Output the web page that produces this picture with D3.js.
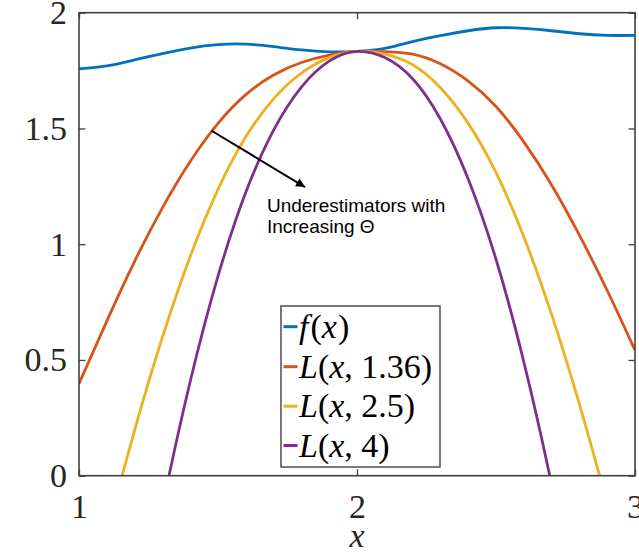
<!DOCTYPE html>
<html>
<head>
<meta charset="utf-8">
<script src="https://cdn.jsdelivr.net/npm/d3@7"></script>
<style>
  html, body { margin: 0; padding: 0; background: #fff; }
  svg { display: block; }
</style>
</head>
<body>
<svg id="chart" width="639" height="554"></svg>
<script>
// Sample points along x
const xs = [1.0, 1.1, 1.2, 1.3, 1.4, 1.5, 1.6, 1.7, 1.8, 1.9, 2.0,
            2.1, 2.2, 2.3, 2.4, 2.5, 2.6, 2.7, 2.8, 2.9, 3.0];

// Objective f(x)
const fVals = [1.757, 1.770, 1.796, 1.823, 1.847, 1.862, 1.864, 1.853, 1.839, 1.831, 1.833,
               1.846, 1.875, 1.901, 1.922, 1.935, 1.932, 1.922, 1.909, 1.902, 1.902];

// Underestimator L(x, 1.36)
const l136Vals = [0.397, 0.668, 0.926, 1.157, 1.357, 1.522, 1.646, 1.731, 1.785, 1.817, 1.833,
                  1.832, 1.821, 1.779, 1.704, 1.595, 1.442, 1.256, 1.039, 0.800, 0.542];

// Underestimator L(x, 2.5)
const l25Vals = [-0.743, -0.255, 0.196, 0.598, 0.947, 1.237, 1.464, 1.628, 1.739, 1.806, 1.833,
                 1.821, 1.775, 1.676, 1.522, 1.310, 1.032, 0.697, 0.309, -0.123, -0.598];

// Underestimator L(x, 4)
const l4Vals = [-2.243, -1.470, -0.764, -0.137, 0.407, 0.862, 1.224, 1.493, 1.679, 1.791, 1.833,
                1.806, 1.715, 1.541, 1.282, 0.935, 0.492, -0.038, -0.651, -1.338, -2.098];

const xTicks = [1, 2, 3];
const yTicks = [0, 0.5, 1, 1.5, 2];
const yTickLabels = ["0", "0.5", "1", "1.5", "2"];

const seriesNames = ["f", "L136", "L25", "L4"];
const seriesColors = ["#0072BD", "#D95319", "#EDB120", "#7E2F8E"];
const seriesValues = [fVals, l136Vals, l25Vals, l4Vals];
const legendArgs = [null, "1.36", "2.5", "4"];

// Annotation arrow (data units) and its text
const arrowFrom = [1.477, 1.490];
const arrowTo = [1.813, 1.247];
const noteLines = ["Underestimators with", "Increasing \u0398"];
const noteAnchor = [1.676, 1.140];

const svg = d3.select("#chart");
const L = 79, R = 635, T = 12.7, B = 475.7;

const x = d3.scaleLinear().domain([1, 3]).range([L, R]);
const y = d3.scaleLinear().domain([0, 2]).range([B, T]);

const axisColor = "#404040";
const serif = "'Liberation Serif', 'Times New Roman', serif";

svg.append("defs").append("clipPath").attr("id", "plotClip")
  .append("rect").attr("x", L).attr("y", T).attr("width", R - L).attr("height", B - T);

svg.select("defs").append("marker")
  .attr("id", "arrowHead")
  .attr("viewBox", "0 0 10 10")
  .attr("refX", 10).attr("refY", 5)
  .attr("markerWidth", 5.5).attr("markerHeight", 4.5)
  .attr("markerUnits", "strokeWidth")
  .attr("orient", "auto")
  .append("path").attr("d", "M0,0 L10,5 L0,10 Z").attr("fill", "#000");

// Curves
const line = d3.line()
  .x((d, i) => x(xs[i]))
  .y(d => y(d))
  .curve(d3.curveNatural);

const plot = svg.append("g").attr("clip-path", "url(#plotClip)");
seriesValues.forEach((vals, k) => {
  plot.append("path")
    .attr("class", "series " + seriesNames[k])
    .attr("d", line(vals))
    .attr("fill", "none")
    .attr("stroke", seriesColors[k])
    .attr("stroke-width", 2.8)
    .attr("stroke-linejoin", "round");
});

// Axes with inward ticks on all four sides
function styleAxis(g) {
  g.select(".domain").remove();
  g.selectAll(".tick line").attr("stroke", axisColor).attr("stroke-width", 1.3);
  g.selectAll(".tick text")
    .attr("fill", "#262626")
    .style("font-family", serif)
    .style("font-size", "34px");
}

svg.append("g").attr("transform", `translate(0,${B})`)
  .call(d3.axisBottom(x).tickValues(xTicks).tickFormat(d3.format("d")).tickSize(-6.5).tickPadding(18))
  .call(styleAxis);

svg.append("g").attr("transform", `translate(0,${T})`)
  .call(d3.axisTop(x).tickValues(xTicks).tickFormat("").tickSize(-6.5))
  .call(styleAxis);

svg.append("g").attr("transform", `translate(${L},0)`)
  .call(d3.axisLeft(y).tickValues(yTicks).tickFormat((d, i) => yTickLabels[i]).tickSize(-6.5).tickPadding(12))
  .call(styleAxis);

svg.append("g").attr("transform", `translate(${R},0)`)
  .call(d3.axisRight(y).tickValues(yTicks).tickFormat("").tickSize(-6.5))
  .call(styleAxis);

svg.append("rect")
  .attr("x", L).attr("y", T).attr("width", R - L).attr("height", B - T)
  .attr("fill", "none").attr("stroke", axisColor).attr("stroke-width", 1.6);

// x label
svg.append("text")
  .attr("x", x(2)).attr("y", 547)
  .attr("text-anchor", "middle")
  .style("font-family", serif).style("font-style", "italic").style("font-size", "34px")
  .attr("fill", "#262626")
  .text("x");

// Annotation
svg.append("line")
  .attr("x1", x(arrowFrom[0])).attr("y1", y(arrowFrom[1]))
  .attr("x2", x(arrowTo[0])).attr("y2", y(arrowTo[1]))
  .attr("stroke", "#000").attr("stroke-width", 2)
  .attr("marker-end", "url(#arrowHead)");

const note = svg.append("text")
  .attr("x", x(noteAnchor[0])).attr("y", y(noteAnchor[1]))
  .style("font-family", "'Liberation Sans', Arial, sans-serif")
  .style("font-size", "19px")
  .attr("fill", "#000");
noteLines.forEach((t, i) => {
  note.append("tspan").attr("x", x(noteAnchor[0])).attr("dy", i === 0 ? 0 : 21.7).text(t);
});

// Legend
const lg = svg.append("g");
lg.append("rect")
  .attr("x", 281).attr("y", 306).attr("width", 159).attr("height", 161)
  .attr("fill", "#fff").attr("stroke", axisColor).attr("stroke-width", 1.4);

const rowY = [326.7, 366.7, 406.2, 445.5];
seriesNames.forEach((name, k) => {
  lg.append("line")
    .attr("x1", 283.5).attr("x2", 297.5)
    .attr("y1", rowY[k]).attr("y2", rowY[k])
    .attr("stroke", seriesColors[k]).attr("stroke-width", 3);
  const t = lg.append("text")
    .attr("x", 299).attr("y", rowY[k] + 11)
    .style("font-family", serif).style("font-size", "34px")
    .attr("fill", "#000");
  if (legendArgs[k] === null) {
    t.append("tspan").style("font-style", "italic").text("f");
    t.append("tspan").attr("dx", 2).text("(");
    t.append("tspan").style("font-style", "italic").text("x");
    t.append("tspan").attr("dx", 1).text(")");
  } else {
    t.append("tspan").style("font-style", "italic").text("L");
    t.append("tspan").text("(");
    t.append("tspan").style("font-style", "italic").text("x");
    t.append("tspan").text(", " + legendArgs[k] + ")");
  }
});
</script>
</body>
</html>
